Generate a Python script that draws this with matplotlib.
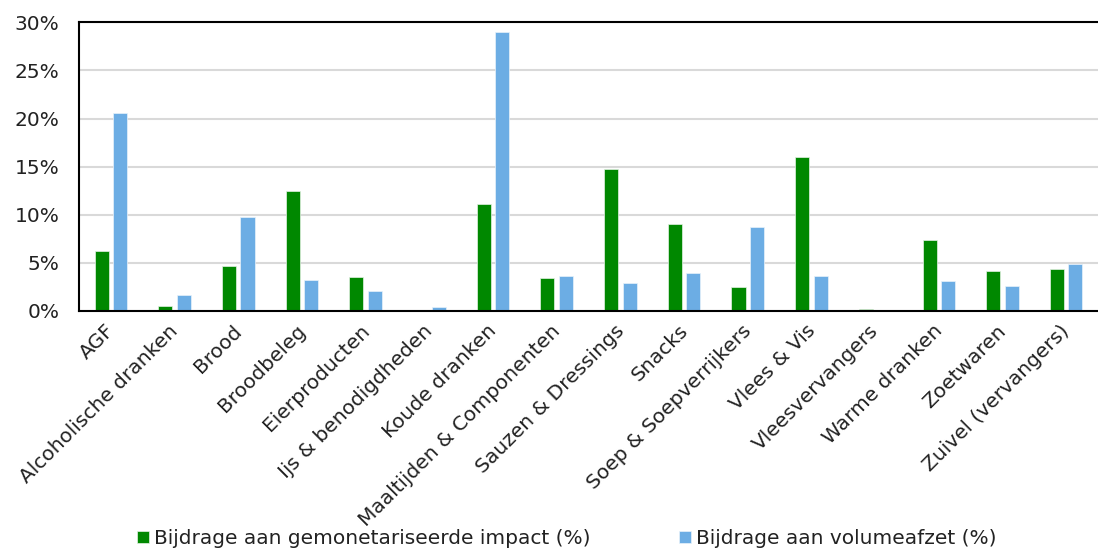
import matplotlib.pyplot as plt
import matplotlib.transforms as mtransforms
import numpy as np
from matplotlib.ticker import PercentFormatter

categories = ["AGF", "Alcoholische dranken", "Brood", "Broodbeleg", "Eierproducten",
              "Ijs & benodigdheden", "Koude dranken", "Maaltijden & Componenten",
              "Sauzen & Dressings", "Snacks", "Soep & Soepverrijkers", "Vlees & Vis",
              "Vleesvervangers", "Warme dranken", "Zoetwaren", "Zuivel (vervangers)"]
impact = [6.2, 0.45, 4.6, 12.5, 3.45, 0.1, 11.1, 3.4, 14.7, 9.0, 2.5, 16.0, 0.15, 7.3, 4.1, 4.3]
volume = [20.6, 1.6, 9.7, 3.2, 2.0, 0.35, 29.0, 3.6, 2.85, 3.95, 8.75, 3.6, 0.05, 3.1, 2.6, 4.8]
labels = ["Bijdrage aan gemonetariseerde impact (%)", "Bijdrage aan volumeafzet (%)"]

green = "#008800"
blue = "#6CADE4"

fig = plt.figure(figsize=(10.98, 5.54), dpi=100)
ax = fig.add_axes([0.072, 0.4395, 0.928, 0.5199])

x = np.arange(len(categories))
w = 0.22
ax.bar(x - 0.145, impact, w, color=green, edgecolor="#e4f2e4", linewidth=0.5, label=labels[0], zorder=3)
ax.bar(x + 0.145, volume, w, color=blue, edgecolor="#e8f2fb", linewidth=0.5, label=labels[1], zorder=3)

ax.set_xlim(-0.5, len(categories) - 0.5)
ax.set_ylim(0, 30)
ax.set_yticks(np.arange(0, 31, 5))
ax.yaxis.set_major_formatter(PercentFormatter(decimals=0))
ax.grid(axis="y", color="#d9d9d9", linewidth=1.5, zorder=0)

for s in ["left", "top", "bottom"]:
    ax.spines[s].set_linewidth(1.5)
    ax.spines[s].set_color("black")
    ax.spines[s].set_zorder(4)
ax.spines["right"].set_visible(False)

ax.set_xticks(x)
ax.set_xticklabels(categories, rotation=45, ha="right", va="top", rotation_mode="anchor")
ax.tick_params(axis="both", length=0, labelsize=14.5, colors="#222222")
ax.tick_params(axis="y", pad=14)
ax.tick_params(axis="x", pad=7)

# nudge the rotated category labels a little to the left
shift = mtransforms.ScaledTranslation(-0.06, -0.01, fig.dpi_scale_trans)
for lbl in ax.get_xticklabels():
    lbl.set_transform(lbl.get_transform() + shift)

fig.legend(loc="lower center", bbox_to_anchor=(0.516, -0.022), ncol=2, frameon=False,
           fontsize=14.5, handlelength=0.6, handleheight=0.6, handletextpad=0.25,
           columnspacing=4.4, labelcolor="#222222")

fig.savefig("out.png", dpi=100)
